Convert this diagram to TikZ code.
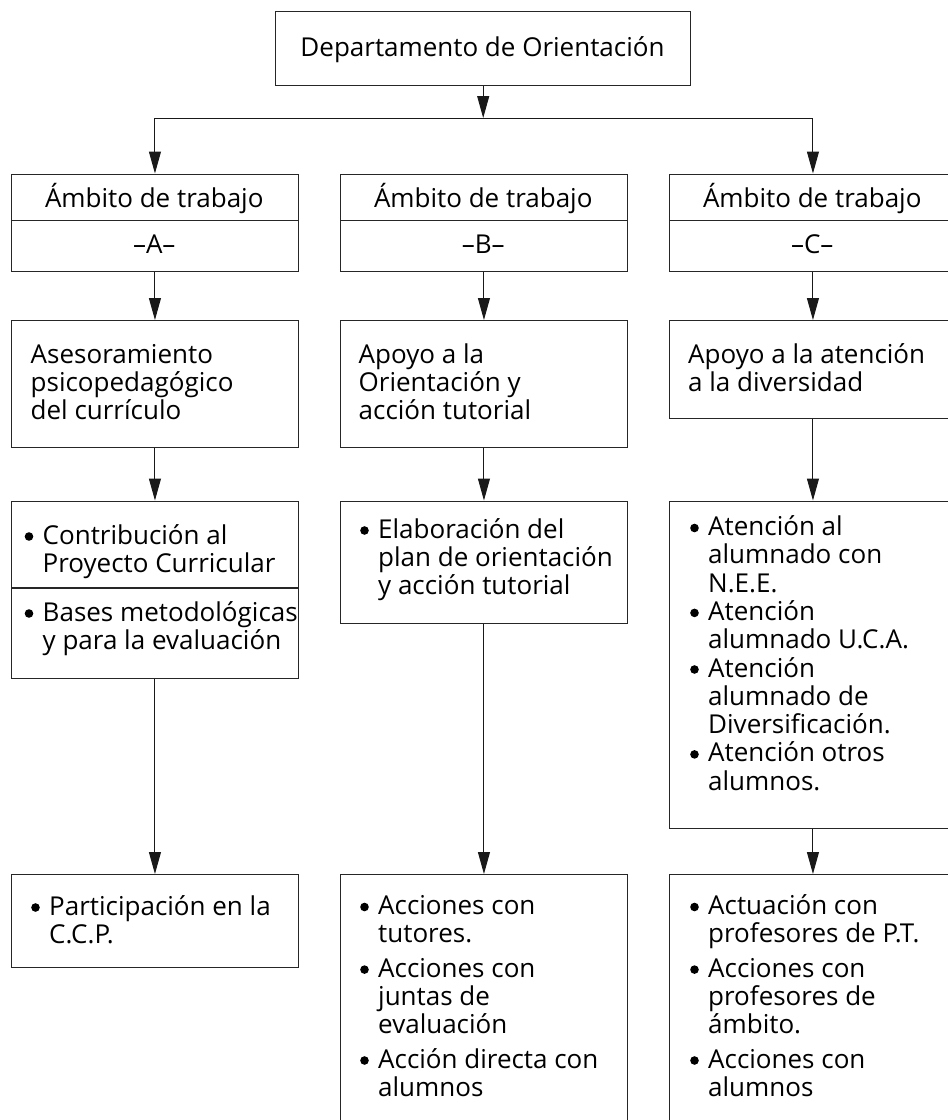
\documentclass[tikz,border=0pt]{standalone}
\usepackage{fontspec}
\setmainfont{Open Sans}
\usetikzlibrary{arrows.meta}
\newcommand\ff{\fontsize{26pt}{28.3pt}\selectfont\lineskiplimit=-50pt\relax}
\newcommand\bu{\makebox[18pt][l]{\tikz[baseline=0pt]\fill[black] (4.3pt,7.5pt) circle[radius=4.3pt];}}
\newcommand\hg{\makebox[18pt]{}}
\newcommand\rl[1]{\hbox{#1}}
\newcommand\gp{\vskip6pt}
\begin{document}
\begin{tikzpicture}[x=1pt,y=-1pt,
  box/.style={draw=black!85, line width=1.4pt, rectangle, inner sep=0pt, anchor=north west, minimum width=286.5pt},
  lbl/.style={inner sep=0pt, anchor=base west, font=\ff, text=black},
  ctr/.style={inner sep=0pt, anchor=base, font=\ff, text=black},
  arr/.style={line width=1pt, draw=black!90, -{Triangle[length=22pt,width=12pt]}},
  ln/.style={line width=1pt, draw=black!90}]
\useasboundingbox (0,0) rectangle (948,1120);
\clip (0,0) rectangle (948,1120);
% boxes
\node[box, minimum width=415pt, minimum height=74.3pt] (top) at (275,10.7) {};
\node[box, minimum height=46pt] (hA1) at (11,173.5) {};
\node[box, minimum height=51.5pt] (hA2) at (11,219.5) {};
\node[box, minimum height=46pt] (hB1) at (340,173.5) {};
\node[box, minimum height=51.5pt] (hB2) at (340,219.5) {};
\node[box, minimum height=46pt] (hC1) at (669,173.5) {};
\node[box, minimum height=51.5pt] (hC2) at (669,219.5) {};
\node[box, minimum height=126.7pt] (a2) at (11,320) {};
\node[box, minimum height=126.7pt] (b2) at (340,320) {};
\node[box, minimum height=98pt] (c2) at (669,320) {};
\node[box, minimum height=86.7pt] (a3t) at (11,500.5) {};
\node[box, minimum height=90.3pt] (a3b) at (11,587.2) {};
\node[box, minimum height=122.5pt] (b3) at (340,500.5) {};
\node[box, minimum height=327.5pt] (c3) at (669,500.5) {};
\node[box, minimum height=93pt] (a4) at (11,874) {};
\node[box, minimum height=270pt] (b4) at (340,874) {};
\node[box, minimum height=270pt] (c4) at (669,874) {};
% connectors
\coordinate (bar) at (0,118);
\draw[arr] (top.south) -- (top.south |- bar);
\draw[ln] (hA1.north |- bar) -- (hC1.north |- bar);
\draw[arr] (hA1.north |- bar) -- (hA1.north);
\draw[arr] (hC1.north |- bar) -- (hC1.north);
\draw[arr] (hA2.south) -- (a2.north);
\draw[arr] (hB2.south) -- (b2.north);
\draw[arr] (hC2.south) -- (c2.north);
\draw[arr] (a2.south) -- (a3t.north);
\draw[arr] (b2.south) -- (b3.north);
\draw[arr] (c2.south) -- (c3.north);
\draw[arr] (a3b.south) -- (a4.north);
\draw[arr] (b3.south) -- (b4.north);
\draw[arr] (c3.south) -- (c4.north);
% texts
\node[ctr] (t0) at (482.5,56) {Departamento de Orientación};
\node[ctr] (tA1) at (154.25,207) {Ámbito de trabajo};
\node[ctr] (tA2) at (154.25,253) {–A–};
\node[ctr] (tB1) at (483.25,207) {Ámbito de trabajo};
\node[ctr] (tB2) at (483.25,253) {–B–};
\node[ctr] (tC1) at (812.25,207) {Ámbito de trabajo};
\node[ctr] (tC2) at (812.25,253) {–C–};
\node[lbl] (ta2) at (30.5,363) {\vtop{\rl{Asesoramiento}\rl{psicopedagógico}\rl{del currículo}}};
\node[lbl] (tb2) at (358.5,363) {\vtop{\rl{Apoyo a la}\rl{Orientación y}\rl{acción tutorial}}};
\node[lbl] (tc2) at (688,363) {\vtop{\rl{Apoyo a la atención}\rl{a la diversidad}}};
\node[lbl] (ta3t) at (24.5,544) {\vtop{\rl{\bu Contribución al}\rl{\hg Proyecto Curricular}}};
\node[lbl] (ta3b) at (24.5,621) {\vtop{\rl{\bu Bases metodológicas}\rl{\hg y para la evaluación}}};
\node[lbl] (tb3) at (360,538) {\vtop{\rl{\bu Elaboración del}\rl{\hg plan de orientación}\rl{\hg y acción tutorial}}};
\node[lbl] (tc3) at (690,535.5) {\vtop{\rl{\bu Atención al}\rl{\hg alumnado con}\rl{\hg N.E.E.}\rl{\bu Atención}\rl{\hg alumnado U.C.A.}\rl{\bu Atención}\rl{\hg alumnado de}\rl{\hg Diversificación.}\rl{\bu Atención otros}\rl{\hg alumnos.}}};
\node[lbl] (ta4) at (31,915) {\vtop{\rl{\bu Participación en la}\rl{\hg C.C.P.}}};
\node[lbl] (tb4) at (360,914.5) {\vtop{\rl{\bu Acciones con}\rl{\hg tutores.}\gp\rl{\bu Acciones con}\rl{\hg juntas de}\rl{\hg evaluación}\gp\rl{\bu Acción directa con}\rl{\hg alumnos}}};
\node[lbl] (tc4) at (690,914.5) {\vtop{\rl{\bu Actuación con}\rl{\hg profesores de P.T.}\gp\rl{\bu Acciones con}\rl{\hg profesores de}\rl{\hg ámbito.}\gp\rl{\bu Acciones con}\rl{\hg alumnos}}};
\end{tikzpicture}
\end{document}
